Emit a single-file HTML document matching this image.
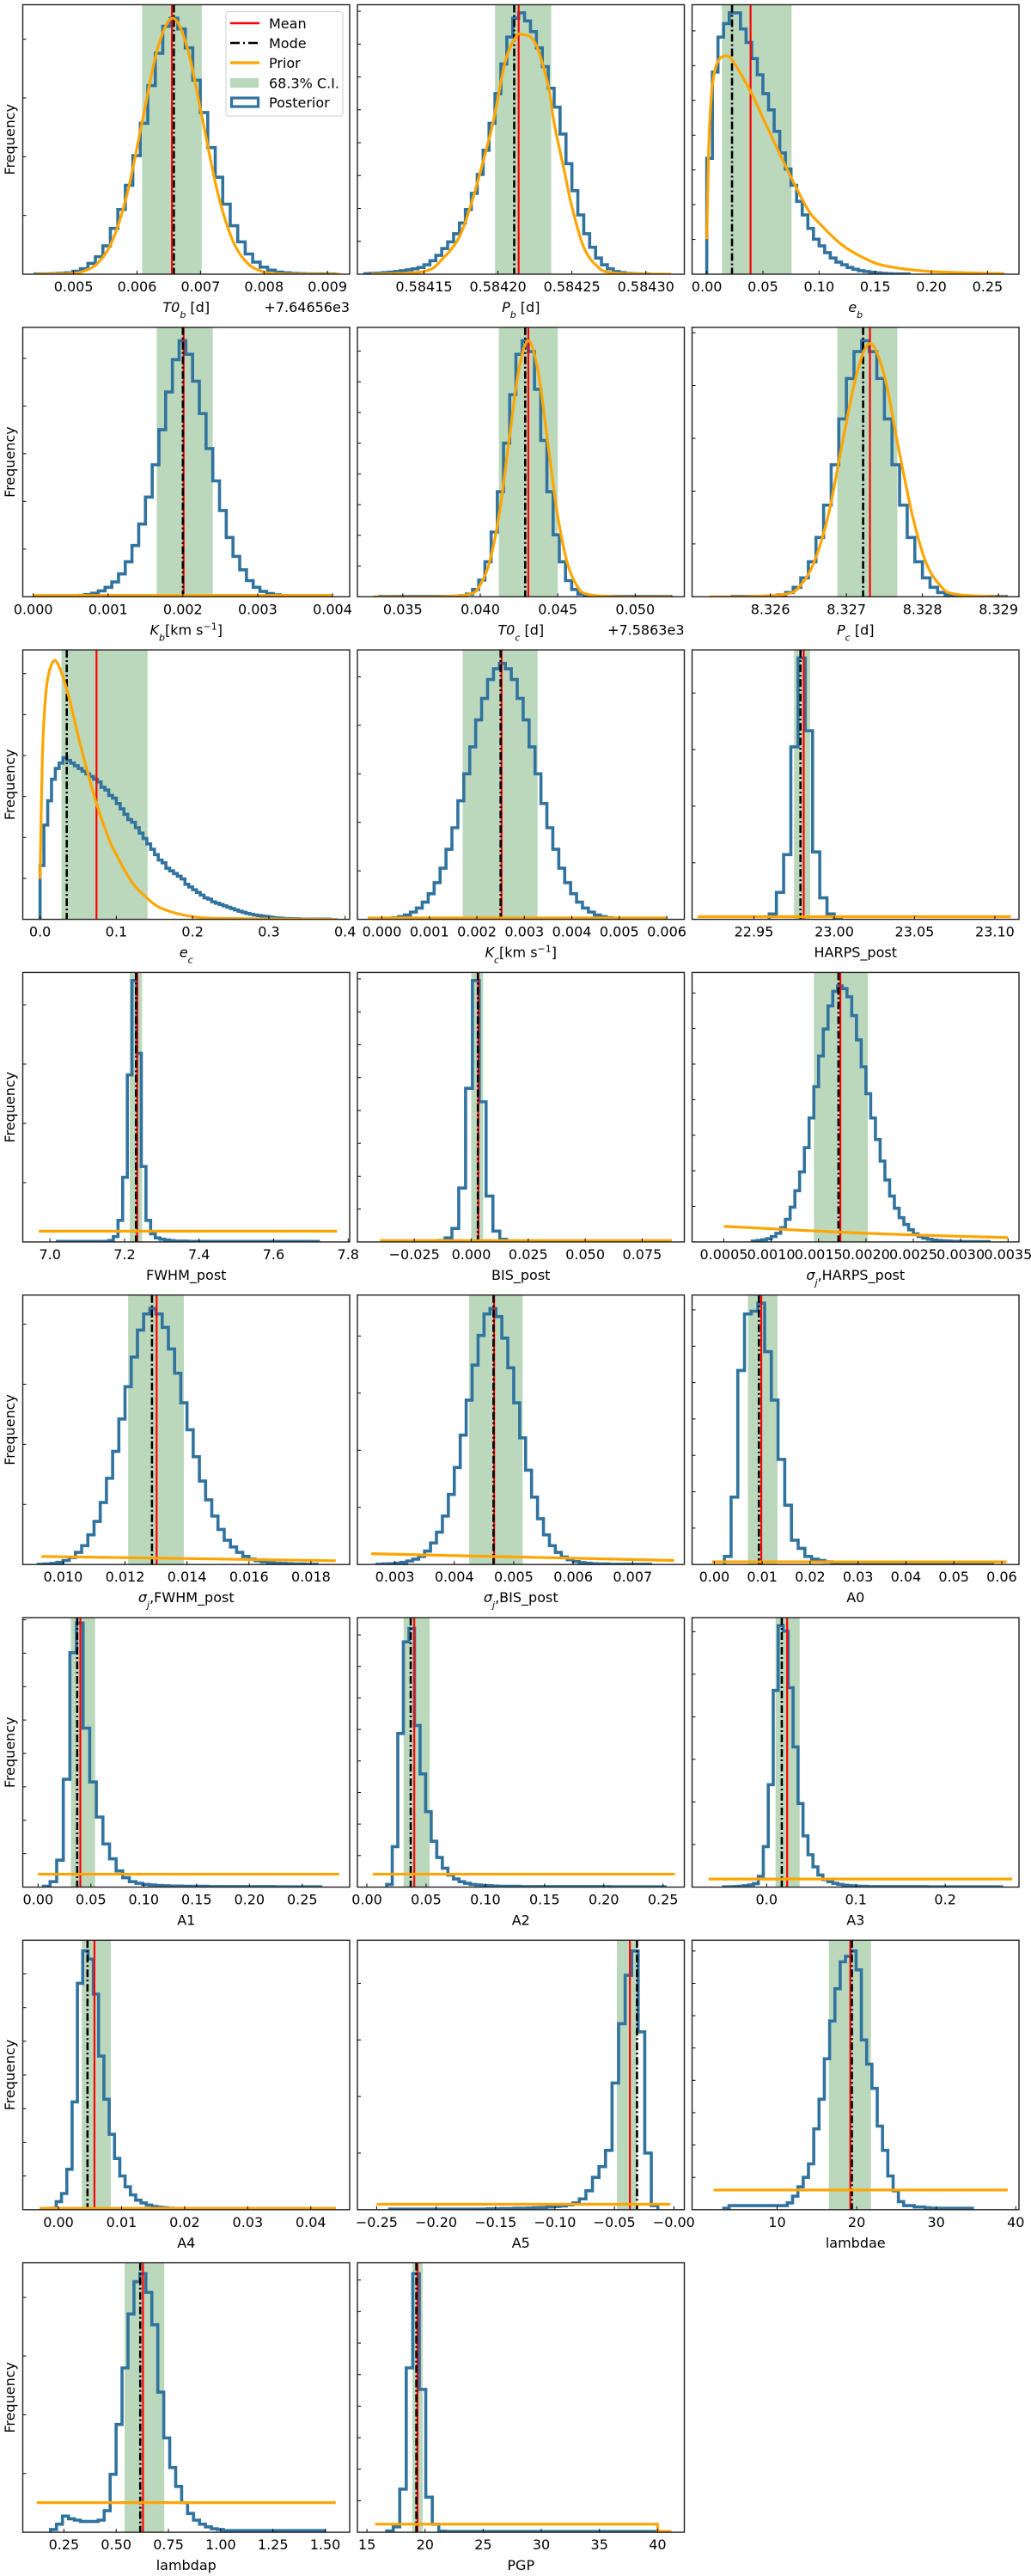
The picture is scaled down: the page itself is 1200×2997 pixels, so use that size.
<!DOCTYPE html>
<html><head><meta charset="utf-8"><title>Posterior histograms</title>
<style>
html,body{margin:0;padding:0;background:#fff;}
svg{display:block;font-family:"DejaVu Sans","Liberation Sans",sans-serif;}
</style></head>
<body>
<svg id="fig" xmlns="http://www.w3.org/2000/svg" width="1200" height="2997" viewBox="0 0 1200 2997"></svg>
<script>
// ---------- data (histogram bin heights in % of panel height, priors, statistics) ----------
const t0bCounts=[0.1,0.1,0.2,0.3,0.5,1.1,2.0,4.0,6.5,10.5,17,24,33,44,56,70,82,92,95,91,84,72,60,47,36,26,18,12,7.5,4.5,2.6,1.5,0.8,0.5,0.3,0.2,0.1,0.1,0.1,0.1];
const t0bPriorX=[0.0044,0.004915,0.00515,0.005385,0.00562,0.005855,0.00609,0.006325,0.00656,0.006795,0.00703,0.007265,0.0075,0.007735,0.00797,0.008205,0.008675,0.0092];
const t0bPriorY=[0,0.2,1.05,4.2,12.9,30.8,57.6,83.8,95,83.8,57.6,30.8,12.9,4.2,1.05,0.2,0,0];
const pbCounts=[0.2,0.3,0.4,0.6,0.8,1.0,1.3,1.6,2.0,2.5,3.5,5,7,9.5,12,15,19,24,30,37,46,56,67,78,88,95,97,94,90,84,77,69,62,52,41,31,22,15,10,6,3.5,2,1,0.6,0.3,0.2,0.1,0.1];
const pbPriorX=[0.584114,0.58415,0.584163,0.584174,0.584183,0.584192,0.584197,0.584205,0.584212,0.584216,0.584225,0.584234,0.584238,0.584245,0.58425,0.584258,0.584267,0.584278,0.584317];
const pbPriorY=[0,1,6,14,28,46,57,79,88,89,86,70,56,38,25,10,3,0.5,0];
const ebCounts=[43,75,88,93,97,97,91,86,80,74,67,61,53,45,39,33,27,22,17,13,10.5,8,6,4.5,3.5,2.5,1.8,1.3,1,0.7,0.5,0.3,0.2,0.1,0.1,0.1];
const ebPriorX=[0,0.002,0.005,0.01,0.018,0.025,0.04,0.05,0.06,0.075,0.09,0.1,0.12,0.14,0.16,0.2,0.265];
const ebPriorY=[13,50,70,79,81,78,67,58,49,36,24,19,11,6,3,1,0.2];
const kbCounts=[0.2,0.3,0.5,0.8,1.3,2.2,3.5,5.5,8.5,13,19,27,37,49,62,76,88,95,90,80,68,55,43,32,22,15,10,6,3.5,2,1.2,0.7,0.4,0.2];
const kbPriorX=[0,0.004]; const kbPriorY=[0.5,0.5];
const t0cCounts=[0.1,0.1,0.1,0.1,0.1,0.1,0.1,0.1,0.1,0.1,0.1,0.1,0.2,0.4,1,2.7,6.2,13,24,39,57,75,90,95,91,77,58,39,23,13,6,2.7,1,0.4,0.2,0.1,0.1,0.1,0.1,0.1,0.1,0.1,0.1,0.1,0.1,0.1,0.1];
const t0cPriorX=[0.0331,0.03748,0.03935,0.039975,0.0406,0.041225,0.04185,0.042475,0.0431,0.043725,0.04435,0.044975,0.0456,0.046225,0.04685,0.04873,0.0523];
const t0cPriorY=[0,0,1.05,4.2,12.9,30.8,57.6,83.8,95,83.8,57.6,30.8,12.9,4.2,1.05,0,0];
const pcCounts=[0.1,0.1,0.1,0.1,0.2,0.3,0.7,1.6,3.5,7,13,22,34,49,66,81,91,95,91,81,66,49,34,22,13,7,3.5,1.6,0.7,0.3,0.1,0.1,0.1,0.1,0.1,0.1];
const pcPriorX=[8.3252,8.32565,8.3262,8.32639,8.32657,8.32676,8.32694,8.32713,8.32731,8.3275,8.32768,8.32787,8.32805,8.32824,8.32842,8.32898,8.3291];
const pcPriorY=[0,0,1,4,12.5,30,56,82,94,82,56,30,12.5,4,1,0,0];
const ecCounts=[20,35,44,52,56,58,60,59,58,57,56,55,54,53,52,51,49,48,46,45,43,41,39,37,36,34,32,30,28,26,24,22,21,19,18,17,16,15,13,12,11,10,9,8,7.5,6.5,6,5.5,5,4.5,4,3.5,3,2.6,2.2,1.9,1.6,1.4,1.2,1,0.8,0.6,0.5,0.4,0.3,0.3,0.2,0.2,0.1,0.1,0.1,0.1,0.1,0.1,0.1,0.1];
const ecPriorX=[0,0.003,0.007,0.012,0.02,0.03,0.04,0.05,0.06,0.075,0.09,0.1,0.12,0.14,0.16,0.2,0.25,0.39];
const ecPriorY=[15,60,82,92,96,90,80,68,57,42,30,24,14,8,4,1,0.3,0];
const kcCounts=[0.4,0.6,1,1.6,2.7,4.2,6.4,9.5,13.6,19,26,34,44,54,64,74,82,89,93,95,93,89,82,74,64,54,43,34,26,19,13.6,9.5,6.4,4.2,2.7,1.6,1,0.6,0.4,0.2,0.1,0.1,0.1];
const kcPriorX=[-0.0003,0.006]; const kcPriorY=[0.5,0.5];
const harpsCounts=[2,10,24,64,97,70,25,8,2,0.5];
const harpsPriorX=[22.915,23.11]; const harpsPriorY=[1,1];
const fwhmCounts=[0.2,0.2,0.2,0.2,0.2,0.2,0.2,0.2,0.2,0.2,0.2,0.5,2,8,24,62,97,70,28,8,3,1.5,1,0.7,0.5,0.3,0.3,0.3,0.2,0.2,0.2,0.2,0.2,0.2,0.2,0.2,0.2,0.2,0.2,0.2,0.2,0.2,0.2,0.2,0.2,0.2,0.2,0.2,0.2,0.2,0.2,0.2,0.2,0.2,0.2,0.2];
const fwhmPriorX=[6.97,7.77]; const fwhmPriorY=[4,4];
const bisCounts=[0.5,1.5,5,20,57,97,52,17,4,1,0.3];
const bisPriorX=[-0.04,0.088]; const bisPriorY=[0.5,0.5];
const sjHarpsCounts=[0.3,0.5,0.8,1.2,2,3.2,5.3,8.4,12.9,19,26,35,46,57.6,69,79,87.6,93,95,94,91,84,75,65,55,46,38,30,23,17,12.5,9,6.5,4.5,3,2,1.4,1,0.7,0.5,0.4,0.3,0.2,0.2,0.1,0.1,0.1,0.1,0.1,0.1];
const sjHarpsPriorX=[0.0005,0.002,0.0035]; const sjHarpsPriorY=[5.8,3.2,1.6];
const sjFwhmCounts=[0.1,0.2,0.4,0.8,1.5,2.6,4.5,7,11,16,23,32,42,54,66,77,87,93,95,93,88,80,71,60,50,40,31,24,18,13,9,6.5,4.5,3,2,1.4,1,0.7,0.5,0.4,0.3,0.2,0.2,0.1,0.1];
const sjFwhmPriorX=[0.0093,0.0188]; const sjFwhmPriorY=[3,1.4];
const sjBisCounts=[0.1,0.2,0.3,0.5,0.8,1.3,2,3,5,8,12,18,26,36,48,61,74,85,93,95,92,84,73,60,47,35,25,17,11,7,4.5,2.8,1.8,1.1,0.7,0.5,0.3,0.2,0.2,0.1,0.1,0.1,0.1,0.1,0.1,0.1];
const sjBisPriorX=[0.0026,0.0077]; const sjBisPriorY=[4,1.5];
const a0Counts=[3,25,72,93,94,97,79,61,39,22,9,6,3,2,1.5,1,0.8,0.6,0.5,0.4,0.4,0.3,0.3,0.3,0.2,0.2,0.2,0.2,0.2,0.2,0.2,0.1,0.1,0.1,0.1,0.1,0.1,0.1,0.1,0.1];
const a0PriorX=[-0.0005,0.061]; const a0PriorY=[1,1];
const a1Counts=[0.3,2,10,40,87,98,59,39,26,16,10.5,6,3.5,2,1.4,1,0.8,0.6,0.5,0.4,0.4,0.3,0.3,0.3,0.3,0.2,0.2,0.2,0.2,0.2,0.2,0.2,0.2,0.2,0.2,0.1,0.1,0.1,0.1,0.1,0.1,0.1];
const a1PriorX=[0,0.285]; const a1PriorY=[4.8,4.8];
const a2Counts=[1,15,57,91,96,60,42,28,17,11,7,4.5,3,2,1.4,1,0.8,0.6,0.5,0.4,0.3,0.3,0.3,0.3,0.2,0.2,0.2,0.2,0.2,0.2,0.2,0.2,0.2,0.2,0.2,0.2,0.2,0.2,0.2,0.2,0.1,0.1,0.1,0.1,0.1,0.1,0.1,0.1,0.1,0.1];
const a2PriorX=[0.005,0.26]; const a2PriorY=[4.8,4.8];
const a3Counts=[0.1,0.1,0.2,0.3,0.5,0.8,1.3,4,15,38,73,97,95,74,52,31,19,12,7.5,4.5,2.8,2,1.4,1,0.7,0.5,0.4,0.3,0.3,0.2,0.2,0.2,0.2,0.2,0.2,0.2,0.2,0.2,0.2,0.2,0.2,0.1,0.1,0.1,0.1,0.1,0.1,0.1,0.1,0.1,0.1,0.1,0.1,0.1,0.1,0.1];
const a3PriorX=[-0.065,0.275]; const a3PriorY=[3,3];
const a4Counts=[0.5,3,6,15,40,84,96,93,80,57,41,28,19,12.5,8.5,5.5,3.5,2.5,1.7,1.2,0.9,0.7,0.5,0.4,0.3,0.3,0.2,0.2,0.2,0.1,0.1,0.1];
const a4PriorX=[-0.003,0.044]; const a4PriorY=[0.5,0.5];
const a5Counts=[0.2,0.2,0.2,0.2,0.2,0.2,0.2,0.2,0.2,0.2,0.2,0.2,0.2,0.2,0.2,0.3,0.3,0.4,0.4,0.5,0.5,0.6,0.7,0.8,1,1.2,1.4,1.8,2.5,4,7,12,16,22,47,69,87,96,66,21,1.5];
const a5PriorX=[-0.25,-0.003]; const a5PriorY=[2,2];
const lambdaeCounts=[0.5,1.5,1.5,1.5,1.5,1.5,1.5,1.5,1.5,1.5,1.5,1.5,2.5,5,8.5,12,17,30,41,56,70,82,92,94,96,89,63,54,45,31,22,12.5,7,3,1.5,1.5,1,1,0.7,0.5,0.5,0.5,0.5,0.5,0.5,0.5,0.5];
const lambdaePriorX=[2,39]; const lambdaePriorY=[7.3,7.3];
const lambdapCounts=[1,3,6,5,4.5,4,4,4,4.5,8,21.5,40,61,81,93,96,89,77,52,35,24,17,11,7,4.5,3,2,1.3,1,0.6,0.6,0.6,0.6,0.6,0.6,0.6,0.6,0.6,0.6,0.6,0.6,0.6,0.6,0.6,0.6,0.6];
const lambdapPriorX=[0.12,1.55]; const lambdapPriorY=[11,11];
const pgpCounts=[0.5,2,16,61,96,53,13,3,0.4,0.3,0.3,0.3,0.3,0.3,0.3,0.3,0.3,0.3,0.3,0.3,0.3,0.3,0.3,0.3,0.3,0.3,0.3,0.3,0.3,0.3,0.3,0.3,0.3,0.3,0.3,0.3,0.3,0.3,0.3,0.3,0.3,0.3];
const pgpPriorX=[15.7,40,40,41.2]; const pgpPriorY=[3,3,0.3,0.3];

// statistics per panel (same order as panels)
const meanValues=[0.00655,0.584214,0.039,0.00201,0.0431,8.32731,0.074,0.00252,22.981,7.234,0.0031,0.00173,0.01302,0.00467,0.0098,0.040,0.040,0.023,0.0057,-0.037,19.2,0.628,19.35];
const modeValues=[0.00658,0.584211,0.0225,0.0020,0.0429,8.32722,0.035,0.0025,22.979,7.231,0.0029,0.00171,0.01287,0.00466,0.0093,0.037,0.037,0.017,0.0046,-0.031,19.4,0.615,19.25];
const ciLow=[0.00608,0.584198,0.0135,0.00165,0.0412,8.32688,0.028,0.0017,22.975,7.214,0.0,0.00145,0.0121,0.00425,0.007,0.031,0.031,0.010,0.0037,-0.048,16.5,0.54,18.9];
const ciHigh=[0.00702,0.584236,0.0755,0.0024,0.0450,8.32767,0.141,0.00328,22.985,7.247,0.0052,0.00202,0.0139,0.00515,0.0132,0.054,0.053,0.037,0.0083,-0.031,21.8,0.73,19.8];

// tick values / labels
const t0bTicks=[0.005,0.006,0.007,0.008,0.009]; const t0bTickLabels=["0.005","0.006","0.007","0.008","0.009"];
const pbTicks=[0.58415,0.5842,0.58425,0.5843]; const pbTickLabels=["0.58415","0.58420","0.58425","0.58430"];
const ebTicks=[0,0.05,0.1,0.15,0.2,0.25]; const ebTickLabels=["0.00","0.05","0.10","0.15","0.20","0.25"];
const kbTicks=[0,0.001,0.002,0.003,0.004]; const kbTickLabels=["0.000","0.001","0.002","0.003","0.004"];
const t0cTicks=[0.035,0.04,0.045,0.05]; const t0cTickLabels=["0.035","0.040","0.045","0.050"];
const pcTicks=[8.326,8.327,8.328,8.329]; const pcTickLabels=["8.326","8.327","8.328","8.329"];
const ecTicks=[0,0.1,0.2,0.3,0.4]; const ecTickLabels=["0.0","0.1","0.2","0.3","0.4"];
const kcTicks=[0,0.001,0.002,0.003,0.004,0.005,0.006]; const kcTickLabels=["0.000","0.001","0.002","0.003","0.004","0.005","0.006"];
const harpsTicks=[22.95,23.0,23.05,23.1]; const harpsTickLabels=["22.95","23.00","23.05","23.10"];
const fwhmTicks=[7.0,7.2,7.4,7.6,7.8]; const fwhmTickLabels=["7.0","7.2","7.4","7.6","7.8"];
const bisTicks=[-0.025,0,0.025,0.05,0.075]; const bisTickLabels=["\u22120.025","0.000","0.025","0.050","0.075"];
const sjHarpsTicks=[0.0005,0.001,0.0015,0.002,0.0025,0.003,0.0035]; const sjHarpsTickLabels=["0.0005","0.0010","0.0015","0.0020","0.0025","0.0030","0.0035"];
const sjFwhmTicks=[0.01,0.012,0.014,0.016,0.018]; const sjFwhmTickLabels=["0.010","0.012","0.014","0.016","0.018"];
const sjBisTicks=[0.003,0.004,0.005,0.006,0.007]; const sjBisTickLabels=["0.003","0.004","0.005","0.006","0.007"];
const a0Ticks=[0,0.01,0.02,0.03,0.04,0.05,0.06]; const a0TickLabels=["0.00","0.01","0.02","0.03","0.04","0.05","0.06"];
const a1Ticks=[0,0.05,0.1,0.15,0.2,0.25]; const a1TickLabels=["0.00","0.05","0.10","0.15","0.20","0.25"];
const a3Ticks=[0,0.1,0.2]; const a3TickLabels=["0.0","0.1","0.2"];
const a4Ticks=[0,0.01,0.02,0.03,0.04]; const a4TickLabels=["0.00","0.01","0.02","0.03","0.04"];
const a5Ticks=[-0.25,-0.2,-0.15,-0.1,-0.05,0]; const a5TickLabels=["\u22120.25","\u22120.20","\u22120.15","\u22120.10","\u22120.05","\u22120.00"];
const lambdaeTicks=[10,20,30,40]; const lambdaeTickLabels=["10","20","30","40"];
const lambdapTicks=[0.25,0.5,0.75,1.0,1.25,1.5]; const lambdapTickLabels=["0.25","0.50","0.75","1.00","1.25","1.50"];
const pgpTicks=[15,20,25,30,35,40]; const pgpTickLabels=["15","20","25","30","35","40"];

// ---------- panel configuration (axes) ----------
const IT='font-style="italic"', SUB='baseline-shift="sub" font-size="11"', SUP='baseline-shift="super" font-size="11"';
const panels=[
 {id:'t0b',xmin:0.0042,xmax:0.00935,hs:0.0044,hw:0.000118,c:t0bCounts,px:t0bPriorX,py:t0bPriorY,smooth:true,t:t0bTicks,tl:t0bTickLabels,ys:21.8,label:`<tspan ${IT}>T0</tspan><tspan ${SUB} ${IT}>b</tspan> [d]`,offset:'+7.64656e3'},
 {id:'pb',xmin:0.584105,xmax:0.584326,hs:0.58411,hw:0.000004,c:pbCounts,px:pbPriorX,py:pbPriorY,smooth:true,t:pbTicks,tl:pbTickLabels,ys:12.2,label:`<tspan ${IT}>P</tspan><tspan ${SUB} ${IT}>b</tspan> [d]`},
 {id:'eb',xmin:-0.0131,xmax:0.278,hs:0,hw:0.005,c:ebCounts,px:ebPriorX,py:ebPriorY,smooth:true,t:ebTicks,tl:ebTickLabels,ys:12.9,label:`<tspan ${IT}>e</tspan><tspan ${SUB} ${IT}>b</tspan>`},
 {id:'kb',xmin:-0.00014,xmax:0.00423,hs:0.00042,hw:0.00009,c:kbCounts,px:kbPriorX,py:kbPriorY,smooth:false,t:kbTicks,tl:kbTickLabels,ys:17.7,label:`<tspan ${IT}>K</tspan><tspan ${SUB} ${IT}>b</tspan><tspan>[km s</tspan><tspan ${SUP}>\u22121</tspan><tspan>]</tspan>`},
 {id:'t0c',xmin:0.03207,xmax:0.05317,hs:0.0335,hw:0.0004,c:t0cCounts,px:t0cPriorX,py:t0cPriorY,smooth:true,t:t0cTicks,tl:t0cTickLabels,ys:11.4,label:`<tspan ${IT}>T0</tspan><tspan ${SUB} ${IT}>c</tspan> [d]`,offset:'+7.5863e3'},
 {id:'pc',xmin:8.32497,xmax:8.32927,hs:8.3255,hw:0.0001,c:pcCounts,px:pcPriorX,py:pcPriorY,smooth:true,t:pcTicks,tl:pcTickLabels,ys:19.6,label:`<tspan ${IT}>P</tspan><tspan ${SUB} ${IT}>c</tspan> [d]`},
 {id:'ec',xmin:-0.0227,xmax:0.406,hs:0,hw:0.005,c:ecCounts,px:ecPriorX,py:ecPriorY,smooth:true,t:ecTicks,tl:ecTickLabels,ys:15.2,label:`<tspan ${IT}>e</tspan><tspan ${SUB} ${IT}>c</tspan>`},
 {id:'kc',xmin:-0.000516,xmax:0.00637,hs:0.0001,hw:0.000125,c:kcCounts,px:kcPriorX,py:kcPriorY,smooth:false,t:kcTicks,tl:kcTickLabels,ys:18,label:`<tspan ${IT}>K</tspan><tspan ${SUB} ${IT}>c</tspan><tspan>[km s</tspan><tspan ${SUP}>\u22121</tspan><tspan>]</tspan>`},
 {id:'harps',xmin:22.9115,xmax:23.115,hs:22.9595,hw:0.0045,c:harpsCounts,px:harpsPriorX,py:harpsPriorY,smooth:false,t:harpsTicks,tl:harpsTickLabels,ys:21,label:'HARPS_post'},
 {id:'fwhm',xmin:6.927,xmax:7.804,hs:7.02,hw:0.0125,c:fwhmCounts,px:fwhmPriorX,py:fwhmPriorY,smooth:false,t:fwhmTicks,tl:fwhmTickLabels,ys:22,label:'FWHM_post'},
 {id:'bis',xmin:-0.04997,xmax:0.0935,hs:-0.0145,hw:0.003,c:bisCounts,px:bisPriorX,py:bisPriorY,smooth:false,t:bisTicks,tl:bisTickLabels,ys:12.2,label:'BIS_post'},
 {id:'sjharps',xmin:0.000165,xmax:0.003615,hs:0.0008,hw:0.00005,c:sjHarpsCounts,px:sjHarpsPriorX,py:sjHarpsPriorY,smooth:true,t:sjHarpsTicks,tl:sjHarpsTickLabels,ys:13.2,label:`<tspan ${IT}>\u03c3</tspan><tspan ${SUB} ${IT}>j</tspan><tspan>,HARPS_post</tspan>`},
 {id:'sjfwhm',xmin:0.0087,xmax:0.01925,hs:0.0092,hw:0.0002,c:sjFwhmCounts,px:sjFwhmPriorX,py:sjFwhmPriorY,smooth:false,t:sjFwhmTicks,tl:sjFwhmTickLabels,ys:22.3,label:`<tspan ${IT}>\u03c3</tspan><tspan ${SUB} ${IT}>j</tspan><tspan>,FWHM_post</tspan>`},
 {id:'sjbis',xmin:0.00237,xmax:0.00787,hs:0.0027,hw:0.0001,c:sjBisCounts,px:sjBisPriorX,py:sjBisPriorY,smooth:false,t:sjBisTicks,tl:sjBisTickLabels,ys:21.2,label:`<tspan ${IT}>\u03c3</tspan><tspan ${SUB} ${IT}>j</tspan><tspan>,BIS_post</tspan>`},
 {id:'a0',xmin:-0.00465,xmax:0.0636,hs:0.0021,hw:0.0014,c:a0Counts,px:a0PriorX,py:a0PriorY,smooth:false,t:a0Ticks,tl:a0TickLabels,ys:13.5,label:'A0'},
 {id:'a1',xmin:-0.0145,xmax:0.2949,hs:0.0051,hw:0.00625,c:a1Counts,px:a1PriorX,py:a1PriorY,smooth:false,t:a1Ticks,tl:a1TickLabels,ys:12.4,label:'A1'},
 {id:'a2',xmin:-0.008,xmax:0.268,hs:0.0167,hw:0.0047,c:a2Counts,px:a2PriorX,py:a2PriorY,smooth:false,t:a1Ticks,tl:a1TickLabels,ys:11.7,label:'A2'},
 {id:'a3',xmin:-0.0835,xmax:0.2826,hs:-0.0482,hw:0.00556,c:a3Counts,px:a3PriorX,py:a3PriorY,smooth:false,t:a3Ticks,tl:a3TickLabels,ys:15.8,label:'A3'},
 {id:'a4',xmin:-0.00566,xmax:0.04616,hs:-0.0012,hw:0.00084,c:a4Counts,px:a4PriorX,py:a4PriorY,smooth:false,t:a4Ticks,tl:a4TickLabels,ys:12.5,label:'A4'},
 {id:'a5',xmin:-0.2662,xmax:0.00879,hs:-0.239,hw:0.0055,c:a5Counts,px:a5PriorX,py:a5PriorY,smooth:false,t:a5Ticks,tl:a5TickLabels,ys:21,label:'A5'},
 {id:'lambdae',xmin:-0.69,xmax:40.4,hs:3.3,hw:0.665,c:lambdaeCounts,px:lambdaePriorX,py:lambdaePriorY,smooth:false,t:lambdaeTicks,tl:lambdaeTickLabels,ys:12,label:'lambdae'},
 {id:'lambdap',xmin:0.053,xmax:1.617,hs:0.186,hw:0.0285,c:lambdapCounts,px:lambdapPriorX,py:lambdapPriorY,smooth:false,t:lambdapTicks,tl:lambdapTickLabels,ys:21.8,label:'lambdap'},
 {id:'pgp',xmin:14.18,xmax:42.3,hs:16.7,hw:0.56,c:pgpCounts,px:pgpPriorX,py:pgpPriorY,smooth:false,t:pgpTicks,tl:pgpTickLabels,ys:11.7,label:'PGP'}
];

// ---------- layout ----------
const colLeft=[26.5,416,805.5], PW=380.5, PH=313.5, TOP0=5.5, PITCH=375.3;
const NS='http://www.w3.org/2000/svg';
const svg=document.getElementById('fig');
function mk(tag,attrs,parent){const e=document.createElementNS(NS,tag);for(const k in attrs)e.setAttribute(k,attrs[k]);(parent||svg).appendChild(e);return e;}
function smoothPath(pts){
  let d=`M${pts[0][0]},${pts[0][1]}`;
  for(let i=0;i<pts.length-1;i++){
    const p0=pts[Math.max(0,i-1)],p1=pts[i],p2=pts[i+1],p3=pts[Math.min(pts.length-1,i+2)];
    const c1x=p1[0]+(p2[0]-p0[0])/6,c1y=p1[1]+(p2[1]-p0[1])/6;
    const c2x=p2[0]-(p3[0]-p1[0])/6,c2y=p2[1]-(p3[1]-p1[1])/6;
    d+=` C${c1x},${c1y} ${c2x},${c2y} ${p2[0]},${p2[1]}`;
  }
  return d;
}

const defs=mk('defs',{});
panels.forEach((p,i)=>{
  const row=Math.floor(i/3), col=i%3;
  const L=colLeft[col], T=TOP0+row*PITCH, B=T+PH, R=L+PW;
  const xs=v=>L+(v-p.xmin)/(p.xmax-p.xmin)*PW;
  const ys=v=>B-v/100*PH;
  const cp=mk('clipPath',{id:'clip-'+p.id},defs); mk('rect',{x:L,y:T,width:PW,height:PH},cp);
  const g=mk('g',{});
  
  
  const inner=mk('g',{'clip-path':`url(#clip-${p.id})`},g);
  // CI band
  const ci=mk('rect',{x:xs(ciLow[i]),y:T,width:xs(ciHigh[i])-xs(ciLow[i]),height:PH,fill:'#bcd8bc'},inner);
  
  
  // histogram step
  let d=`M${xs(p.hs)},${B}`;
  p.c.forEach((v,k)=>{const x0=xs(p.hs+k*p.hw),x1=xs(p.hs+(k+1)*p.hw);d+=` L${x0},${ys(v)} L${x1},${ys(v)}`;});
  d+=` L${xs(p.hs+p.c.length*p.hw)},${B}`;
  const h=mk('path',{d:d,fill:'none',stroke:'#31739f','stroke-width':3.6,'stroke-linejoin':'miter'},inner);
  
  
  // mean & mode
  const mx=xs(meanValues[i]);
  const ml=mk('line',{x1:mx,x2:mx,y1:T,y2:B,stroke:'#ff0000','stroke-width':2.2},inner);
  
  
  const ox=xs(modeValues[i]);
  const ol=mk('line',{x1:ox,x2:ox,y1:T,y2:B,stroke:'#000','stroke-width':2.6,'stroke-dasharray':'9,3,2,3'},inner);
  
  
  // prior
  const pts=p.px.map((x,k)=>[xs(x),ys(p.py[k])]);
  const pd=p.smooth?smoothPath(pts):('M'+pts.map(q=>q[0]+','+q[1]).join(' L'));
  const pr=mk('path',{d:pd,fill:'none',stroke:'#ffa500','stroke-width':3.2},inner);
  
  
  // y ticks
  for(let v=p.ys;v<100;v+=p.ys){mk('line',{x1:L,x2:L+4,y1:ys(v),y2:ys(v),stroke:'#000','stroke-width':1},g);}
  // x ticks
  p.t.forEach((v,k)=>{
    const x=xs(v);
    mk('line',{x1:x,x2:x,y1:B,y2:B-4,stroke:'#000','stroke-width':1},g);
    const tx=mk('text',{x:x,y:B+20,'font-size':16,'text-anchor':'middle',fill:'#000'},g);
    tx.textContent=p.tl[k];
    
    
  });
  // frame
  const fr=mk('rect',{x:L,y:T,width:PW,height:PH,fill:'none',stroke:'#222','stroke-width':1.4},g);
  
  
  // x label
  const xl=mk('text',{x:L+PW/2,y:B+44,'font-size':16,'text-anchor':'middle',fill:'#000'},g);
  xl.innerHTML=p.label;
  
  
  if(p.offset){
    const of=mk('text',{x:R,y:B+44,'font-size':16,'text-anchor':'end',fill:'#000'},g);
    of.textContent=p.offset;
    
    
  }
  if(col===0){
    const yl=mk('text',{x:0,y:0,'font-size':16,'text-anchor':'middle',fill:'#000',transform:`translate(17,${T+PH/2}) rotate(-90)`},g);
    yl.textContent='Frequency';
    
    
  }
});

// ---------- legend (first panel) ----------
const lg=mk('g',{});


mk('rect',{x:263,y:13.5,width:136,height:121.5,rx:3,fill:'#fff','fill-opacity':0.85,stroke:'#cfcfcf','stroke-width':1},lg);
const legendItems=['Mean','Mode','Prior','68.3% C.I.','Posterior'];
const legendY=[27,50,73,96.5,119];
legendItems.forEach((name,k)=>{
  const y=legendY[k];
  if(k===0) mk('line',{x1:268,x2:302,y1:y,y2:y,stroke:'#ff0000','stroke-width':2.4},lg);
  if(k===1) mk('line',{x1:268,x2:302,y1:y,y2:y,stroke:'#000','stroke-width':2.6,'stroke-dasharray':'11,4,2,4'},lg);
  if(k===2) mk('line',{x1:268,x2:302,y1:y,y2:y,stroke:'#ffa500','stroke-width':3.2},lg);
  if(k===3) mk('rect',{x:268,y:y-5.5,width:33,height:11,fill:'#bcd8bc'},lg);
  if(k===4) mk('rect',{x:269.5,y:y-5,width:31,height:10,fill:'#fff',stroke:'#31739f','stroke-width':3.2},lg);
  const t=mk('text',{x:313,y:y+6,'font-size':16,fill:'#000'},lg);
  t.textContent=name;
  
  
});
</script>
</body></html>
